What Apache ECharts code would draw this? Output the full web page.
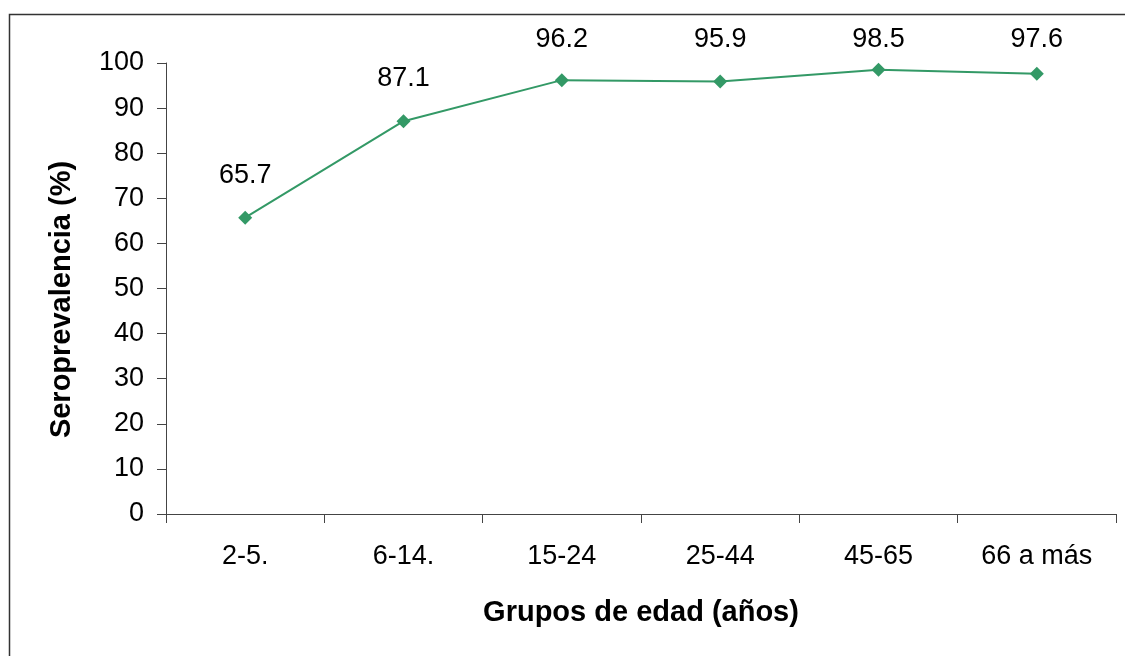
<!DOCTYPE html>
<html>
<head>
<meta charset="utf-8">
<script src="https://cdn.jsdelivr.net/npm/echarts@6/dist/echarts.min.js"></script>
<style>html,body{margin:0;padding:0;background:#fff;}#c{width:1125px;height:656px;}</style>
</head>
<body>
<div id="c"></div>
<script>
const categories = ['2-5.', '6-14.', '15-24', '25-44', '45-65', '66 a más'];
const seroprevalence = [65.7, 87.1, 96.2, 95.9, 98.5, 97.6];
const yTitle = 'Seroprevalencia (%)';
const xTitle = 'Grupos de edad (años)';

const chart = echarts.init(document.getElementById('c'), null, {renderer: 'canvas'});
const font = 'Liberation Sans, Arial, sans-serif';
chart.setOption({
  animation: false,
  backgroundColor: '#fff',
  graphic: [{
    type: 'polyline',
    shape: {points: [[9.5, 700], [9.5, 14.5], [1200, 14.5]]},
    style: {stroke: '#333', lineWidth: 1.5, fill: null}
  }],
  grid: {left: 166, right: 9, top: 63, bottom: 142},
  xAxis: {
    type: 'category',
    data: categories,
    boundaryGap: true,
    name: xTitle,
    nameLocation: 'middle',
    nameGap: 84,
    nameTextStyle: {fontFamily: font, fontSize: 29, fontWeight: 'bold', color: '#000'},
    axisLine: {lineStyle: {color: '#444', width: 1}},
    axisTick: {show: true, length: 9, lineStyle: {color: '#444'}},
    axisLabel: {fontFamily: font, fontSize: 27, color: '#000', margin: 29}
  },
  yAxis: {
    type: 'value',
    min: 0, max: 100, interval: 10,
    name: yTitle,
    nameLocation: 'middle',
    nameGap: 90,
    nameTextStyle: {fontFamily: font, fontSize: 29, fontWeight: 'bold', color: '#000', padding: [0, 22, 0, 0]},
    axisLine: {show: true, lineStyle: {color: '#444', width: 1}},
    axisTick: {show: true, length: 9, lineStyle: {color: '#444'}},
    axisLabel: {fontFamily: font, fontSize: 27, color: '#000', margin: 22},
    splitLine: {show: false}
  },
  series: [{
    type: 'line',
    data: seroprevalence,
    symbol: 'diamond',
    symbolSize: 14,
    itemStyle: {color: '#339966'},
    lineStyle: {color: '#339966', width: 2},
    label: {show: true, position: 'top', distance: 22, fontFamily: font, fontSize: 27, color: '#000',
      formatter: p => p.value.toFixed(1)},
    labelLayout: function (p) {
      const cy = p.labelRect.y + p.labelRect.height / 2;
      const minY = 40;
      return cy < minY ? {dy: minY - cy} : {};
    }
  }]
});
</script>
</body>
</html>
